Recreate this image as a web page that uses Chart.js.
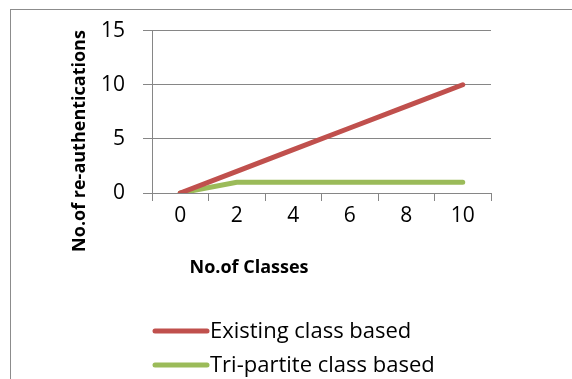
<!DOCTYPE html>
<html>
<head>
<meta charset="utf-8">
<script src="https://cdn.jsdelivr.net/npm/chart.js@4.4.0/dist/chart.umd.min.js"></script>
<style>
  html, body { margin: 0; padding: 0; background: #fff; overflow: hidden; }
  #wrap { position: relative; width: 572px; height: 379px; }
  #frame { position: absolute; left: 10px; top: 9px; width: 600px; height: 400px;
           border: 1px solid #8c8c8c; box-sizing: border-box; }
  #chartBox { position: absolute; left: 0; top: 0; width: 572px; height: 379px; }
</style>
</head>
<body>
<div id="wrap">
  <div id="frame"></div>
  <div id="chartBox"><canvas id="lineChart"></canvas></div>
</div>
<script>
const categories = ["0", "2", "4", "6", "8", "10"];
const existingBased = [0, 2, 4, 6, 8, 10];
const tripartiteBased = [0, 1, 1, 1, 1, 1];
const yTicks = [0, 5, 10, 15];

const xTitle = "No.of Classes";
const yTitle = "No.of re-authentications";

const RED = "#c0504d";
const GREEN = "#9bbb59";
const GRID = "#868686";
const FONT = "'Open Sans'";

/* ---------- axis titles + stacked legend, placed like the original ---------- */
const extras = {
  id: "extras",
  afterDraw(c) {
    const ctx = c.ctx;
    ctx.save();
    ctx.fillStyle = "#000";
    ctx.font = "bold 18px " + FONT;
    ctx.textAlign = "center";
    ctx.textBaseline = "middle";
    ctx.fillText(xTitle, 249, 268);
    ctx.save();
    ctx.translate(80, 141);
    ctx.rotate(-Math.PI / 2);
    ctx.fillText(yTitle, 0, 0);
    ctx.restore();

    // legend: one row per dataset
    ctx.font = "22px " + FONT;
    ctx.textAlign = "left";
    ctx.lineCap = "round";
    c.data.datasets.forEach((ds, i) => {
      const y = 331 + i * 34;
      ctx.strokeStyle = ds.borderColor;
      ctx.lineWidth = ds.borderWidth;
      ctx.beginPath();
      ctx.moveTo(155, y);
      ctx.lineTo(207, y);
      ctx.stroke();
      ctx.fillStyle = "#000";
      ctx.fillText(ds.label, 210, y + 1);
    });
    ctx.restore();
  }
};

Chart.defaults.font.family = "Open Sans";
Chart.defaults.color = "#000";

function initChart() {
  new Chart(document.getElementById("lineChart"), {
    type: "line",
    data: {
      labels: categories,
      datasets: [
        {
          label: "Existing class based",
          data: existingBased,
          borderColor: RED,
          backgroundColor: RED,
          borderWidth: 5,
          borderCapStyle: "round",
          pointRadius: 0,
          tension: 0
        },
        {
          label: "Tri-partite class based",
          data: tripartiteBased,
          borderColor: GREEN,
          backgroundColor: GREEN,
          borderWidth: 5,
          borderCapStyle: "round",
          pointRadius: 0,
          tension: 0
        }
      ]
    },
    options: {
      responsive: true,
      maintainAspectRatio: false,
      animation: false,
      layout: { padding: { top: 26, right: 81, left: 0, bottom: 0 } },
      plugins: {
        tooltip: { enabled: false },
        legend: { display: false }
      },
      scales: {
        x: {
          offset: true,
          afterFit(s) { s.height = 186; },
          grid: {
            offset: true,
            drawOnChartArea: false,
            drawTicks: true,
            tickLength: 8,
            color: GRID
          },
          border: { color: GRID },
          ticks: { padding: 2, font: { size: 21 } }
        },
        y: {
          min: 0,
          max: 15,
          afterFit(s) { s.width = 152; },
          afterBuildTicks(s) { s.ticks = yTicks.map(v => ({ value: v })); },
          grid: { color: GRID, tickLength: 9 },
          border: { color: GRID },
          ticks: { padding: 18, font: { size: 21 } }
        }
      }
    },
    plugins: [extras]
  });
}

window.onload = initChart;
</script>
</body>
</html>
